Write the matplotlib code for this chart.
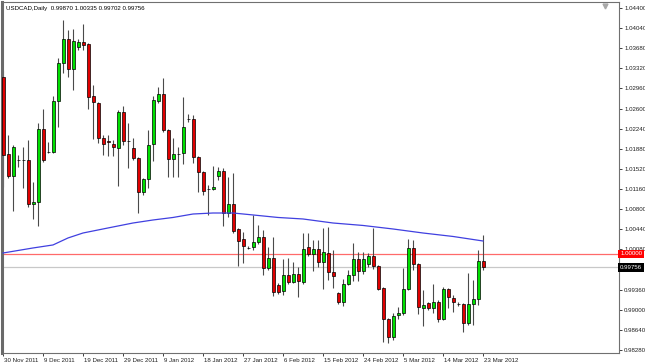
import numpy as np
import matplotlib
matplotlib.use('Agg')
import matplotlib.pyplot as plt
import matplotlib.transforms as mtransforms

plt.rcParams['font.family'] = ['Liberation Sans', 'DejaVu Sans']

symbol = 'USDCAD,Daily'

# daily OHLC, 30 Nov 2011 .. 23 Mar 2012
opens = [1.03166, 1.01787, 1.01394, 1.01680, 1.01680, 1.01680, 1.00892, 1.00928, 1.02235, 1.01823,
         1.01823, 1.02736, 1.03416, 1.03846, 1.03309, 1.03703, 1.03792, 1.03756, 1.02826, 1.02700,
         1.02074, 1.02011, 1.01966, 1.01895, 1.02539, 1.02020, 1.01895, 1.01716, 1.01107, 1.01340,
         1.01966, 1.02736, 1.02861, 1.02217, 1.01698, 1.01787, 1.01805, 1.02414, 1.02414, 1.01734,
         1.01465, 1.01161, 1.01161, 1.01394, 1.01483, 1.00731, 1.00892, 1.00445, 1.00266, 1.00105,
         1.00123, 1.00212, 1.00302, 0.99747, 0.99926, 0.99443, 0.99335, 0.99622, 0.99496, 0.99639,
         0.99496, 1.00123, 0.99997, 1.00087, 0.99854, 1.00015, 0.99675, 0.99299, 0.99138, 0.99460,
         0.99622, 0.99908, 0.99693, 0.99818, 0.99962, 0.99783, 0.99389, 0.98834, 0.98512, 0.98906,
         0.98941, 0.99371, 1.00105, 0.99818, 0.99031, 0.99120, 0.99031, 0.99138, 0.98834, 0.99371,
         0.99210, 0.99102, 0.99102, 0.98762, 0.99102, 0.99192, 0.99870]
highs = [1.03291, 1.02128, 1.01949, 1.01770, 1.01913, 1.02038, 1.01286, 1.02342, 1.02593, 1.02002,
         1.02826, 1.03506, 1.04186, 1.04007, 1.04025, 1.03846, 1.04114, 1.03774, 1.03023, 1.02718,
         1.02128, 1.02128, 1.02038, 1.02575, 1.02647, 1.02342, 1.02074, 1.01734, 1.01358, 1.02217,
         1.02826, 1.02987, 1.03148, 1.02235, 1.02074, 1.01913, 1.02808, 1.02503, 1.02486, 1.01752,
         1.01483, 1.01233, 1.01573, 1.01555, 1.01537, 1.01376, 1.01447, 1.00463, 1.00391, 1.00141,
         1.00696, 1.00517, 1.00427, 1.00123, 1.00302, 0.99478, 0.99908, 0.99926, 0.99854, 0.99765,
         1.00373, 1.00373, 1.00248, 1.00248, 1.00463, 1.00481, 1.00069, 0.99317, 0.99550, 0.99711,
         1.00194, 1.00033, 1.00033, 1.00015, 1.00463, 0.99800, 0.99407, 0.98852, 0.98941, 0.99049,
         0.99747, 1.00266, 1.00248, 0.99836, 0.99353, 0.99138, 0.99460, 0.99174, 0.99407, 0.99389,
         0.99264, 0.99138, 0.99120, 0.99657, 0.99532, 1.00069, 1.00335]
lows = [1.01197, 1.01358, 1.00767, 1.01555, 1.01179, 1.00839, 1.00624, 1.00499, 1.01644, 1.01805,
        1.01805, 1.02271, 1.03237, 1.03166, 1.02933, 1.03649, 1.03649, 1.02593, 1.02056, 1.01984,
        1.01770, 1.01752, 1.01752, 1.01215, 1.01949, 1.01537, 1.01680, 1.00731, 1.01054, 1.01179,
        1.01662, 1.02700, 1.02181, 1.01376, 1.01376, 1.01376, 1.01608, 1.02360, 1.01626, 1.01107,
        1.01054, 1.00696, 1.01143, 1.01322, 1.00499, 1.00660, 1.00373, 0.99783, 0.99836, 1.00078,
        1.00069, 1.00176, 0.99622, 0.99711, 0.99246, 0.99281, 0.99264, 0.99460, 0.99478, 0.99228,
        0.99460, 0.99962, 0.99693, 0.99765, 0.99371, 0.99532, 0.99389, 0.99102, 0.99067, 0.99443,
        0.99514, 0.99514, 0.99639, 0.99765, 0.99729, 0.99353, 0.98422, 0.98404, 0.98458, 0.98834,
        0.98906, 0.99353, 0.99711, 0.98923, 0.98709, 0.98995, 0.98941, 0.98780, 0.98816, 0.99031,
        0.98959, 0.99075, 0.98601, 0.98727, 0.98727, 0.99085, 0.99702]
closes = [1.01770, 1.01394, 1.01913, 1.01676, 1.01671, 1.00892, 1.00928, 1.02235, 1.01680, 1.01820,
          1.02736, 1.03416, 1.03846, 1.03309, 1.03810, 1.03792, 1.03739, 1.02808, 1.02718, 1.02074,
          1.01966, 1.02002, 1.01904, 1.02539, 1.02020, 1.02015, 1.01716, 1.01107, 1.01340, 1.01949,
          1.02754, 1.02861, 1.02217, 1.01698, 1.01787, 1.01782, 1.02271, 1.02409, 1.01734, 1.01465,
          1.01125, 1.01156, 1.01197, 1.01483, 1.00731, 1.00892, 1.00409, 1.00230, 1.00141, 1.00099,
          1.00212, 1.00302, 0.99747, 0.99926, 0.99317, 0.99317, 0.99622, 0.99496, 0.99639, 0.99514,
          1.00087, 0.99997, 1.00087, 0.99854, 1.00033, 0.99675, 0.99604, 0.99138, 0.99460, 0.99622,
          0.99908, 0.99693, 0.99908, 0.99962, 0.99783, 0.99371, 0.98834, 0.98512, 0.98888, 0.98941,
          0.99371, 1.00105, 0.99818, 0.99049, 0.99085, 0.99031, 0.99138, 0.98834, 0.99371, 0.99228,
          0.99138, 0.99097, 0.98762, 0.99102, 0.99192, 0.99872, 0.99756]

# moving average (blue line), read at a few bars
ma_bars = [0, 6, 10, 13, 16, 21, 26, 30, 34, 38, 42, 46, 50, 55, 60, 66, 72, 78, 84, 90, 96]
ma_values = [1.00015, 1.00105, 1.00159, 1.00284, 1.00373, 1.00463, 1.00552, 1.00606, 1.00651, 1.00713,
             1.00731, 1.00731, 1.00696, 1.00651, 1.00624, 1.00552, 1.00508, 1.00445, 1.00373, 1.00311,
             1.00230]

date_labels = ['30 Nov 2011', '9 Dec 2011', '19 Dec 2011', '29 Dec 2011', '9 Jan 2012', '18 Jan 2012',
               '27 Jan 2012', '6 Feb 2012', '15 Feb 2012', '24 Feb 2012', '5 Mar 2012', '14 Mar 2012',
               '23 Mar 2012']
price_ticks = [1.04400, 1.04040, 1.03680, 1.03320, 1.02960, 1.02600, 1.02240, 1.01880, 1.01520,
               1.01160, 1.00800, 1.00440, 1.00080, 0.99720, 0.99360, 0.99000, 0.98640, 0.98280]
level = 1.00000

o = np.array(opens)
h = np.array(highs)
l = np.array(lows)
c = np.array(closes)
x = np.arange(len(o))
up = c >= o

fs = 4.4

fig = plt.figure(figsize=(6.45, 3.64), dpi=100)
ax = fig.add_axes([2 / 645, 11 / 364, 617 / 645, 351 / 364])

# wicks then bodies
ax.vlines(x, l, h, color='#4a4a4a', lw=0.8, zorder=2)
ax.bar(x, np.abs(c - o), bottom=np.minimum(o, c), width=0.6,
       color=np.where(up, '#00e000', '#e00000'), edgecolor='black', lw=0.5, zorder=3)

ax.plot(ma_bars, ma_values, color='#4040e0', lw=0.9, zorder=4)
ax.axhline(level, color='#ff6a6a', lw=0.9, zorder=1)
ax.axhline(c[-1], color='#c8c8c8', lw=0.9, zorder=1)

ax.set_xlim(-0.2, 123.2)
ax.set_ylim(0.98225, 1.04508)

# price scale on the right; the bid tag hides the label next to it
ax.yaxis.tick_right()
ylabels = ['' if abs(p - c[-1]) < 0.0005 else f'{p:.5f}' for p in price_ticks]
ax.set_yticks(price_ticks, ylabels)
ax.tick_params(axis='y', length=2.5, width=0.6, pad=1.2, labelsize=fs, colors='#202020')

# date scale every 8 bars
ax.set_xticks(x[::8], date_labels)
ax.tick_params(axis='x', length=2.5, width=0.6, pad=0.8, labelsize=fs, colors='#202020')
offset = mtransforms.ScaledTranslation(1 / 100, 0, fig.dpi_scale_trans)
for t in ax.get_xticklabels():
    t.set_ha('left')
    t.set_transform(t.get_transform() + offset)

for side in ['top', 'right', 'bottom']:
    ax.spines[side].set_color('#707070')
    ax.spines[side].set_linewidth(0.8)
ax.spines['left'].set_color('#6a6a6a')
ax.spines['left'].set_linewidth(2.2)

# price tags on the scale
tag_tr = mtransforms.blended_transform_factory(ax.transAxes, ax.transData)
ax.text(1.002, level, f'{level:.5f}', transform=tag_tr, ha='left', va='center', fontsize=fs,
        color='white', zorder=10, clip_on=False,
        bbox=dict(boxstyle='square,pad=0.3', fc='#ff0000', ec='none'))
ax.text(1.002, c[-1], f'{c[-1]:.5f}', transform=tag_tr, ha='left', va='center', fontsize=fs,
        color='white', zorder=10, clip_on=False,
        bbox=dict(boxstyle='square,pad=0.3', fc='black', ec='none'))

# header
ax.text(0.006, 0.988, f'{symbol}  {o[-1]:.5f} {h[-1]:.5f} {l[-1]:.5f} {c[-1]:.5f}',
        transform=ax.transAxes, ha='left', va='top', fontsize=fs, color='black')

# chart shift marker
ax.plot([0.977], [0.99], marker='v', ms=3.5, color='#a8a8a8', transform=ax.transAxes, clip_on=False)

fig.savefig('out.png', dpi=100)
